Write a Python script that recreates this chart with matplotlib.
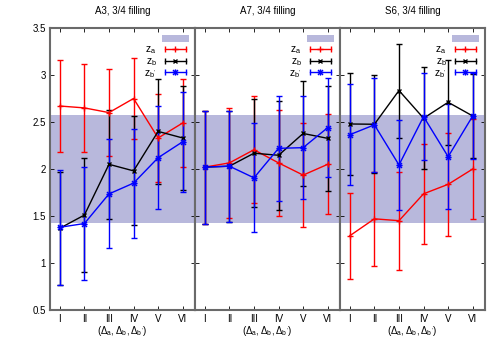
import numpy as np
import matplotlib
matplotlib.use('Agg')
import matplotlib.pyplot as plt
from matplotlib.patches import Patch
from matplotlib.lines import Line2D
from matplotlib.path import Path
from matplotlib.legend_handler import HandlerLine2D
from matplotlib.ticker import FormatStrFormatter

plt.rcParams['font.family'] = ['Liberation Sans', 'DejaVu Sans']
plt.rcParams['mathtext.fontset'] = 'custom'
plt.rcParams['mathtext.rm'] = 'Liberation Sans'
plt.rcParams['mathtext.it'] = 'Liberation Sans'
plt.rcParams['mathtext.bf'] = 'Liberation Sans:bold'

# data
cases = ['I', 'II', 'III', 'IV', 'V', 'VI']
titles = ['A3, 3/4 filling', 'A7, 3/4 filling', 'S6, 3/4 filling']
band_lo, band_hi = 1.43, 2.57

za_A3 = [2.67, 2.65, 2.60, 2.75, 2.33, 2.49]
za_A3_err = [0.49, 0.465, 0.467, 0.43, 0.47, 0.47]
zb_A3 = [1.37, 1.51, 2.05, 1.98, 2.40, 2.33]
zb_A3_err = [0.60, 0.61, 0.58, 0.58, 0.56, 0.55]
zbp_A3 = [1.38, 1.42, 1.735, 1.85, 2.12, 2.29]
zbp_A3_err = [0.61, 0.60, 0.58, 0.58, 0.55, 0.53]

za_A7 = [2.02, 2.065, 2.205, 2.065, 1.935, 2.05]
za_A7_err = [0.60, 0.585, 0.57, 0.56, 0.55, 0.53]
zb_A7 = [2.02, 2.03, 2.168, 2.146, 2.378, 2.326]
zb_A7_err = [0.60, 0.59, 0.577, 0.58, 0.56, 0.557]
zbp_A7 = [2.02, 2.03, 1.906, 2.22, 2.227, 2.44]
zbp_A7_err = [0.60, 0.59, 0.58, 0.557, 0.55, 0.527]

za_S6 = [1.29, 1.47, 1.45, 1.736, 1.837, 2.0]
za_S6_err = [0.46, 0.50, 0.52, 0.534, 0.545, 0.535]
zb_S6 = [2.479, 2.476, 2.835, 2.54, 2.71, 2.564]
zb_S6_err = [0.54, 0.52, 0.50, 0.54, 0.45, 0.45]
zbp_S6 = [2.365, 2.47, 2.043, 2.557, 2.131, 2.564]
zbp_S6_err = [0.535, 0.50, 0.48, 0.46, 0.56, 0.456]

panels = [
    [(za_A3, za_A3_err), (zb_A3, zb_A3_err), (zbp_A3, zbp_A3_err)],
    [(za_A7, za_A7_err), (zb_A7, zb_A7_err), (zbp_A7, zbp_A7_err)],
    [(za_S6, za_S6_err), (zb_S6, zb_S6_err), (zbp_S6, zbp_S6_err)],
]
names = [r'$z_a$', r'$z_b$', r"$z_{b'}$"]

star = Path([(-1, 0), (1, 0), (0, -1), (0, 1), (-0.8, -0.8), (0.8, 0.8), (-0.8, 0.8), (0.8, -0.8)],
            [Path.MOVETO, Path.LINETO] * 4)
colors = ['#ff0000', '#000000', '#0000ff']
markers = ['+', 'x', star]
msizes = [4, 3.5, 4.5]
band_color = '#b8b8dc'

fig = plt.figure(figsize=(5, 3.5), dpi=100)
x = np.arange(1, len(cases) + 1)

for i, (title, series) in enumerate(zip(titles, panels)):
    ax = fig.add_axes([0.1 + i * 0.29, 40 / 350, 0.29, 282 / 350])
    ax.axhspan(band_lo, band_hi, color=band_color, lw=0, zorder=0)
    for (vals, err), c, m, ms in zip(series, colors, markers, msizes):
        ax.errorbar(x, vals, yerr=err, color=c, lw=1, elinewidth=1, capsize=2.5, capthick=1,
                    marker=m, ms=ms, mew=1, mfc='none', zorder=2)
    ax.set_xlim(0.6, 6.5)
    ax.set_ylim(0.5, 3.5)
    ax.set_xticks(x)
    ax.set_xticklabels(cases)
    ax.set_yticks(np.arange(0.5, 3.51, 0.5))
    ax.yaxis.set_major_formatter(FormatStrFormatter('%g'))
    ax.tick_params(direction='in', top=True, right=True, length=3, width=0.6,
                   labelsize=7, pad=3, colors='black')
    if i > 0:
        ax.tick_params(labelleft=False)
    for sp in ax.spines.values():
        sp.set_color('#6a6a6a')
        sp.set_linewidth(1.5)
    ax.set_title(title, fontsize=7, pad=10)
    ax.set_xlabel(r"$(\Delta_a,\Delta_b,\Delta_{b'})$", fontsize=7, labelpad=0)

    handles = [Patch(facecolor=band_color, edgecolor='none')]
    hmap = {}
    for c, m, ms in zip(colors, markers, msizes):
        capline = Line2D([], [], color=c, lw=1, marker='|', ms=5, mew=1)
        mark = Line2D([], [], color=c, lw=0, marker=m, ms=ms, mew=1, mfc='none')
        hmap[capline] = HandlerLine2D(numpoints=2)
        hmap[mark] = HandlerLine2D(numpoints=1)
        handles.append((capline, mark))
    ax.legend(handles, [''] + names, handler_map=hmap, loc='upper right', frameon=False,
              markerfirst=False, fontsize=7.5, handlelength=2.6, handleheight=0.55,
              handletextpad=0.5, labelspacing=0.0, borderaxespad=0.4, borderpad=0.2)

fig.savefig('out.png', dpi=100)
